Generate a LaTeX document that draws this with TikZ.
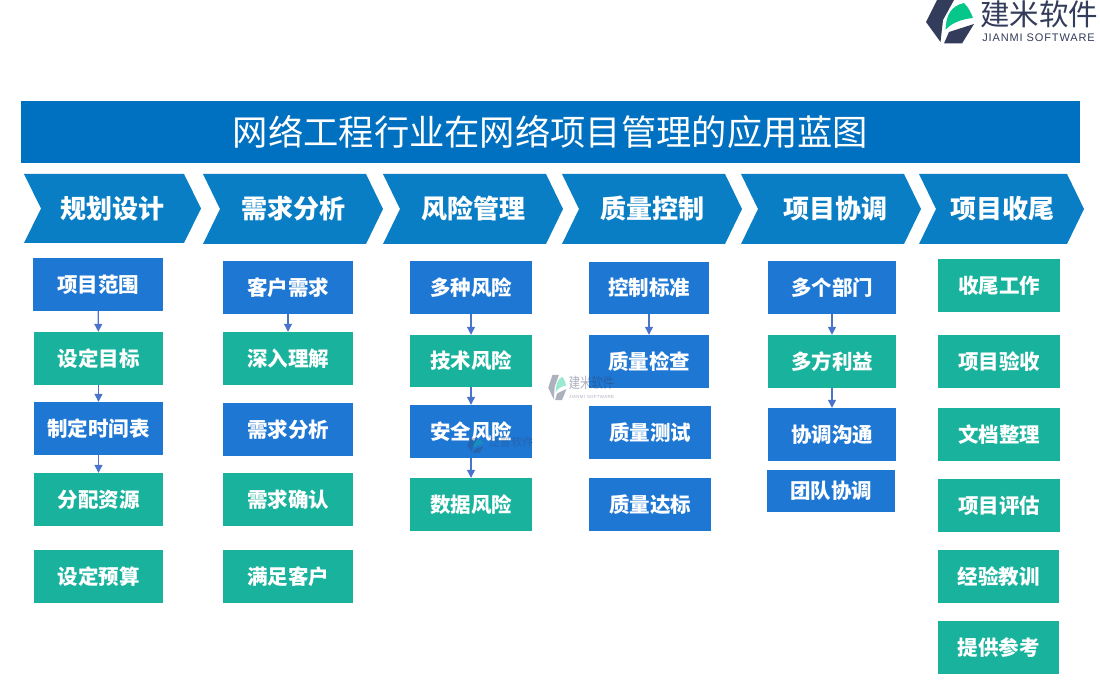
\documentclass[tikz,border=0pt]{standalone}
\usepackage{fontspec}
\setmainfont{Noto Sans CJK SC}
\newfontfamily\latinlogo[LetterSpace=8]{Liberation Sans}
\usetikzlibrary{arrows.meta}
\definecolor{titleblue}{HTML}{0070C0}
\definecolor{chevblue}{HTML}{0A7EC4}
\definecolor{boxblue}{HTML}{1F77D4}
\definecolor{boxgreen}{HTML}{19B29C}
\definecolor{arrowblue}{HTML}{4A73CB}
\definecolor{logodark}{HTML}{333C5A}
\definecolor{logogreen}{HTML}{05C78A}
\tikzset{
  x=1pt,y=-1pt,
  boxnode/.style={inner sep=0pt,text=white,font=\fontsize{20.5}{24}\selectfont\bfseries},
  bluebox/.style={boxnode,fill=boxblue},
  greenbox/.style={boxnode,fill=boxgreen},
  chev/.style={fill=chevblue},
  chevtext/.style={inner sep=0pt,text=white,font=\fontsize{26}{30}\selectfont\bfseries},
  link/.style={draw=arrowblue,line width=1.2pt,-{Triangle[width=8pt,length=8pt]},shorten <=0pt,shorten >=0pt},
}
% name, style, x1, y1, x2, y2, text
\newcommand{\bx}[7]{%
  \pgfmathsetmacro{\bxw}{#5-#3}\pgfmathsetmacro{\bxh}{#6-#4}%
  \pgfmathsetmacro{\bxc}{(#3+#5)/2}\pgfmathsetmacro{\bxm}{(#4+#6)/2}%
  \node[#2,minimum width=\bxw pt,minimum height=\bxh pt] (#1) at (\bxc,\bxm) {#7};}
% left, notch, shoulder, tip, top, bottom, name, text x, text
\newcommand{\chv}[9]{%
  \pgfmathsetmacro{\chm}{(#5+#6)/2}%
  \fill[chev] (#1,#5) -- (#3,#5) -- (#4,\chm) -- (#3,#6) -- (#1,#6) -- (#2,\chm) -- cycle;
  \node[chevtext] (#7) at (#8,\chm) {#9};}
\newcommand{\logomark}{%
  \fill[logodark] (38,0) -- (55,0) -- (44,20) -- (41.5,42) -- (27,22) -- cycle;
  \fill[logodark] (45,43.5) -- (50,32) -- (75,24) -- (63,43.5) -- cycle;
  \fill[logogreen] (46.5,30) .. controls (47,15) and (52,6) .. (65,3) .. controls (70,8) and (72,13) .. (74,18) .. controls (63,19) and (52,23) .. (46.5,30) -- cycle;
}
\begin{document}
\begin{tikzpicture}
\useasboundingbox (0,0) rectangle (1100,700);
\fill[white] (0,0) rectangle (1100,700);
% logo
\begin{scope}[xshift=899pt]
  \logomark
\end{scope}
\node[inner sep=0pt,text=logodark,font=\fontsize{29.5}{31}\selectfont] (logotext) at (1039,14) {建米软件};
\node[inner sep=0pt,text=logodark,font=\fontsize{11}{12}\selectfont\latinlogo] (logosub) at (1038.5,38) {JIANMI SOFTWARE};
% title
\node[fill=titleblue,inner sep=0pt,minimum width=1059pt,minimum height=62pt,text=white,font=\fontsize{35.3}{40}\selectfont] (title) at (550.5,132) {网络工程行业在网络项目管理的应用蓝图};
% chevrons
\chv{24}{41}{184}{201}{174}{243}{h1}{112.5}{规划设计}
\chv{203}{220}{366}{383}{174}{244}{h2}{293}{需求分析}
\chv{383}{400}{546}{563}{174}{244}{h3}{473}{风险管理}
\chv{562}{579}{725}{742}{174}{244}{h4}{652.5}{质量控制}
\chv{741}{758}{904}{921}{174}{244}{h5}{835.5}{项目协调}
\chv{919}{936}{1067}{1084}{174}{244}{h6}{1002.5}{项目收尾}
% column 1
\bx{a1}{bluebox}{33}{258}{163}{311}{项目范围}
\bx{a2}{greenbox}{34}{332}{163}{385}{设定目标}
\bx{a3}{bluebox}{34}{402}{163}{455}{制定时间表}
\bx{a4}{greenbox}{34}{473}{163}{526}{分配资源}
\bx{a5}{greenbox}{34}{550}{163}{603}{设定预算}
% column 2
\bx{b1}{bluebox}{223}{261}{353}{314}{客户需求}
\bx{b2}{greenbox}{223}{332}{353}{385}{深入理解}
\bx{b3}{bluebox}{223}{403}{353}{456}{需求分析}
\bx{b4}{greenbox}{223}{473}{353}{526}{需求确认}
\bx{b5}{greenbox}{223}{550}{353}{603}{满足客户}
% column 3
\bx{c1}{bluebox}{410}{261}{532}{314}{多种风险}
\bx{c2}{greenbox}{410}{335}{532}{387}{技术风险}
\bx{c3}{bluebox}{410}{405}{532}{458}{安全风险}
\bx{c4}{greenbox}{410}{478}{532}{531}{数据风险}
% column 4
\bx{d1}{bluebox}{589}{262}{709}{314}{控制标准}
\bx{d2}{bluebox}{589}{335}{709}{388}{质量检查}
\bx{d3}{bluebox}{589}{406}{711}{459}{质量测试}
\bx{d4}{bluebox}{589}{478}{711}{531}{质量达标}
% column 5
\bx{e1}{bluebox}{768}{261}{896}{314}{多个部门}
\bx{e2}{greenbox}{768}{335}{896}{388}{多方利益}
\bx{e3}{bluebox}{768}{408}{896}{461}{协调沟通}
\bx{e4}{bluebox}{767}{470}{895}{512}{团队协调}
% column 6
\bx{f1}{greenbox}{938}{259}{1060}{312}{收尾工作}
\bx{f2}{greenbox}{938}{335}{1060}{388}{项目验收}
\bx{f3}{greenbox}{938}{408}{1060}{461}{文档整理}
\bx{f4}{greenbox}{938}{479}{1060}{532}{项目评估}
\bx{f5}{greenbox}{938}{550}{1059}{603}{经验教训}
\bx{f6}{greenbox}{938}{621}{1059}{674}{提供参考}
% connectors
\draw[link] (a1) -- (a2);
\draw[link] (a2) -- (a3);
\draw[link] (a3) -- (a4);
\draw[link] (b1) -- (b2);
\draw[link] (c1) -- (c2);
\draw[link] (c2) -- (c3);
\draw[link] (c3) -- (c4);
\draw[link] (d1) -- (d2);
\draw[link] (e1) -- (e2);
\draw[link] (e2) -- (e3);
% watermark
\begin{scope}[opacity=0.4,transparency group]
  \begin{scope}[xshift=538pt,yshift=-375pt,xscale=0.38,yscale=0.58]
    \logomark
  \end{scope}
  \node[inner sep=0pt,text=logodark,font=\fontsize{11.3}{13}\selectfont,yscale=1.3,transform shape] (wm1) at (591.5,382.5) {建米软件};
  \node[inner sep=0pt,text=logodark,font=\fontsize{4.4}{6}\selectfont\latinlogo] (wm2) at (591.5,397) {JIANMI SOFTWARE};
\end{scope}
\begin{scope}[opacity=0.3,transparency group]
  \begin{scope}[xshift=458pt,yshift=-438pt,scale=0.34]
    \logomark
  \end{scope}
  \node[inner sep=0pt,text=logodark,font=\fontsize{11.3}{13}\selectfont] (wm3) at (511,442) {泛普软件};
\end{scope}
\end{tikzpicture}
\end{document}
